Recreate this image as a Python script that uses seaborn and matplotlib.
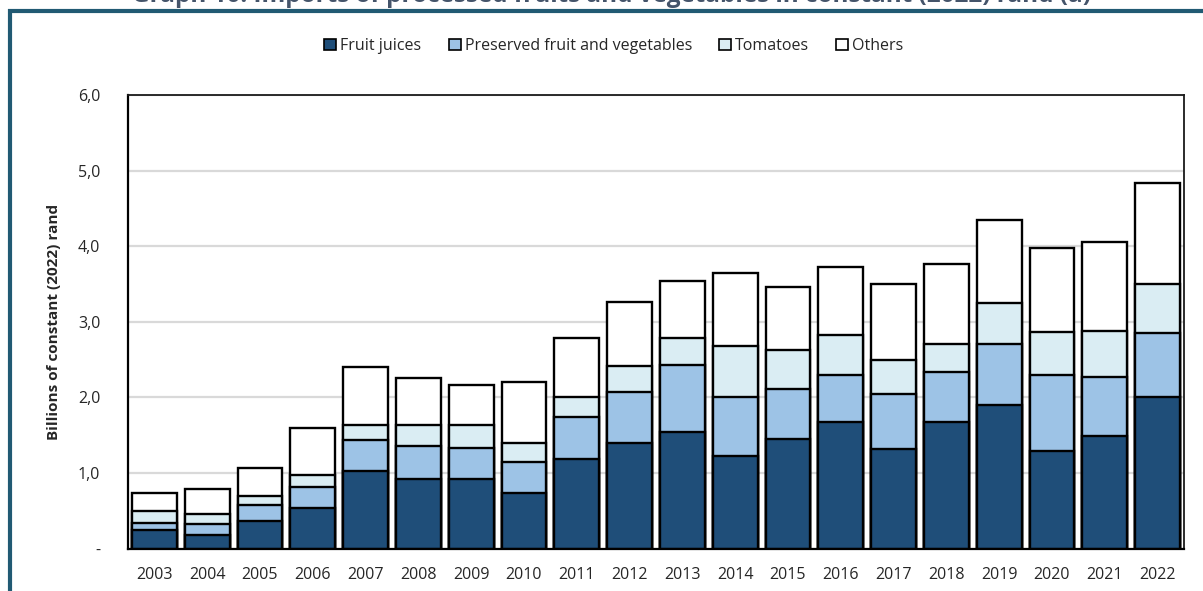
import matplotlib
matplotlib.use("Agg")
import matplotlib.pyplot as plt
from matplotlib.patches import Patch
from matplotlib.lines import Line2D
import numpy as np
import pandas as pd
import seaborn as sns

# Imports of processed fruits and vegetables, billions of constant (2022) rand
years = [str(y) for y in range(2003, 2023)]
fruit_juices = [0.25, 0.18, 0.36, 0.54, 1.03, 0.92, 0.92, 0.74, 1.18, 1.40,
                1.54, 1.22, 1.45, 1.67, 1.31, 1.67, 1.90, 1.29, 1.49, 2.01]
preserved = [0.09, 0.14, 0.21, 0.27, 0.40, 0.44, 0.41, 0.40, 0.56, 0.67,
             0.89, 0.78, 0.66, 0.63, 0.73, 0.67, 0.81, 1.00, 0.78, 0.84]
tomatoes = [0.16, 0.14, 0.12, 0.16, 0.21, 0.27, 0.30, 0.25, 0.26, 0.35,
            0.35, 0.68, 0.52, 0.53, 0.45, 0.36, 0.54, 0.57, 0.61, 0.65]
others = [0.24, 0.33, 0.38, 0.62, 0.76, 0.62, 0.53, 0.81, 0.79, 0.84,
          0.76, 0.97, 0.83, 0.89, 1.01, 1.06, 1.10, 1.11, 1.18, 1.34]

series_names = ["Fruit juices", "Preserved fruit and vegetables", "Tomatoes", "Others"]
series_values = [fruit_juices, preserved, tomatoes, others]
colors = ["#1F4E79", "#9DC3E6", "#DAEDF3", "#FFFFFF"]

y_ticks = [0, 1, 2, 3, 4, 5, 6]
y_tick_labels = ["-", "1,0", "2,0", "3,0", "4,0", "5,0", "6,0"]

title = "Graph 10: Imports of processed fruits and vegetables in constant (2022) rand (a)"
y_label = "Billions of constant (2022) rand"

# Cumulative stack heights, one column per series
cum = np.cumsum(np.array(series_values), axis=0)
df = pd.DataFrame({"year": years})
for name, row in zip(series_names, cum):
    df[name] = row

sns.set_theme(style="white")
plt.rcParams["font.family"] = ["Open Sans", "DejaVu Sans"]

W, H = 1203, 591
fig = plt.figure(figsize=(W / 100, H / 100), dpi=100)
ax = fig.add_axes([128 / W, 1 - 548.5 / H, (1184 - 128) / W, (548.5 - 95) / H])

# Draw tallest stack first, then overlay lower cumulative levels
for name, color in reversed(list(zip(series_names, colors))):
    sns.barplot(data=df, x="year", y=name, color=color, saturation=1,
                width=0.85, edgecolor="black", linewidth=1.7, ax=ax, zorder=3)

ax.set_ylim(0, 6)
ax.set_xlim(-0.5, len(years) - 0.5)
ax.set_yticks(y_ticks)
ax.set_yticklabels(y_tick_labels, fontsize=11.5)
ax.tick_params(axis="x", labelsize=11.5, length=0, pad=13)
ax.tick_params(axis="y", length=0, pad=20)
ax.set_xlabel("")
ax.set_ylabel(y_label, fontsize=11, fontweight="bold", labelpad=12)
ax.yaxis.grid(True, color="#D9D9D9", linewidth=1.6, zorder=0)
ax.set_axisbelow(True)
for side in ["left", "bottom"]:
    ax.spines[side].set_color("black")
    ax.spines[side].set_linewidth(1.6)
for side in ["top", "right"]:
    ax.spines[side].set_color("#1a1a1a")
    ax.spines[side].set_linewidth(1.3)
ax.spines["bottom"].set_zorder(5)

handles = [Patch(facecolor=c, edgecolor="black", linewidth=1.2) for c in colors]
fig.legend(handles, series_names, loc="center", bbox_to_anchor=(614 / W, 1 - 46 / H),
           ncol=4, frameon=False, fontsize=11.5, handlelength=0.75, handleheight=0.75,
           handletextpad=0.25, columnspacing=1.7)

# Frame lines and title
frame_color = "#215A73"
fig.add_artist(Line2D([8 / W, 1.0], [1 - 11 / H, 1 - 11 / H], color=frame_color,
                      linewidth=3.0, transform=fig.transFigure, solid_capstyle="butt"))
fig.add_artist(Line2D([10 / W, 10 / W], [1 - 9 / H, 0], color=frame_color,
                      linewidth=3.0, transform=fig.transFigure, solid_capstyle="butt"))
fig.text(612 / W, 1 - 2 / H, title, ha="center", va="baseline", fontsize=17.5,
         fontweight="bold", color="#44546A")

fig.savefig("out.png", dpi=100)
